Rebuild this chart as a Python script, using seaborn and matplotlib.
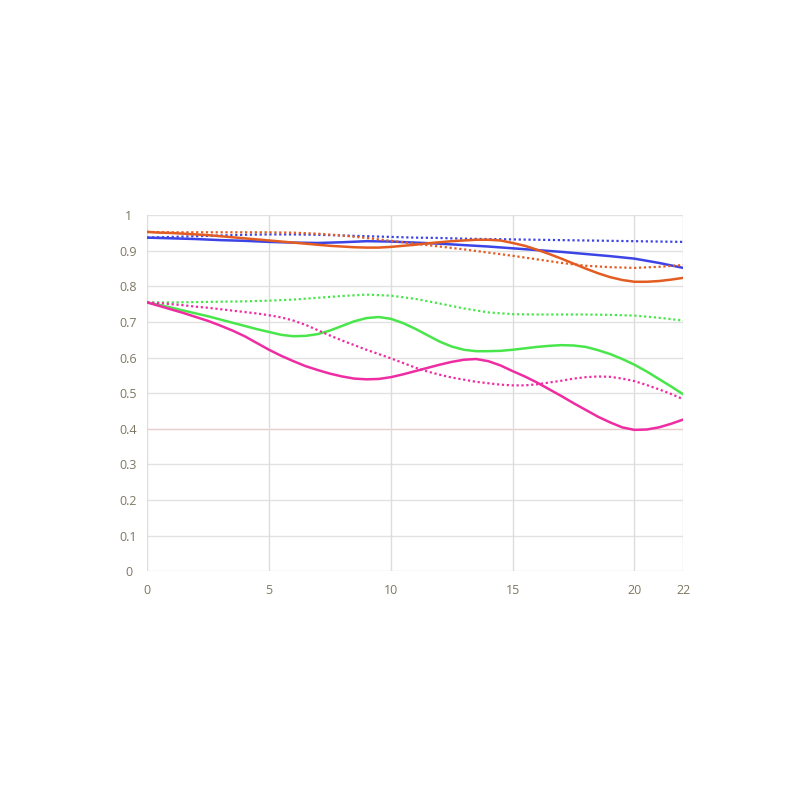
import numpy as np
import pandas as pd
import matplotlib
matplotlib.use("Agg")
import matplotlib.pyplot as plt
import seaborn as sns

# image height in mm (whole mm and half mm for the curvier lines)
x_mm = list(range(0, 23))
x_half = [i / 2 for i in range(0, 45)]

# MTF values
blue_solid = [0.937, 0.935, 0.933, 0.930, 0.928, 0.925, 0.923, 0.922, 0.924, 0.927, 0.926, 0.923,
              0.920, 0.916, 0.912, 0.907, 0.902, 0.897, 0.891, 0.885, 0.878, 0.866, 0.852]
blue_dotted = [0.937, 0.939, 0.941, 0.943, 0.945, 0.946, 0.946, 0.945, 0.943, 0.941, 0.939, 0.937,
               0.936, 0.934, 0.933, 0.932, 0.931, 0.930, 0.929, 0.928, 0.927, 0.926, 0.925]
orange_dotted = [0.953, 0.952, 0.952, 0.952, 0.952, 0.952, 0.951, 0.948, 0.943, 0.936, 0.928, 0.920,
                 0.912, 0.904, 0.895, 0.886, 0.876, 0.866, 0.858, 0.854, 0.852, 0.855, 0.860]
green_dotted = [0.755, 0.755, 0.756, 0.757, 0.758, 0.760, 0.763, 0.768, 0.773, 0.777, 0.774, 0.765,
                0.752, 0.738, 0.727, 0.722, 0.721, 0.721, 0.721, 0.720, 0.718, 0.712, 0.704]

# half-mm readings
orange_solid = [0.953, 0.951, 0.950, 0.948, 0.946, 0.944, 0.941, 0.938, 0.935, 0.932, 0.929,
                0.926, 0.923, 0.920, 0.917, 0.914, 0.912, 0.910, 0.909, 0.909, 0.911, 0.914,
                0.917, 0.921, 0.924, 0.927, 0.929, 0.931, 0.931, 0.929, 0.922, 0.914, 0.903,
                0.891, 0.878, 0.864, 0.850, 0.837, 0.826, 0.818, 0.813, 0.813, 0.815, 0.819, 0.824]
green_solid = [0.755, 0.748, 0.740, 0.732, 0.724, 0.716, 0.707, 0.698, 0.689, 0.680, 0.672,
               0.664, 0.660, 0.661, 0.666, 0.676, 0.689, 0.702, 0.711, 0.714, 0.709, 0.697,
               0.681, 0.663, 0.645, 0.631, 0.622, 0.618, 0.618, 0.619, 0.622, 0.626, 0.630,
               0.633, 0.635, 0.634, 0.630, 0.621, 0.610, 0.596, 0.580, 0.561, 0.540, 0.519, 0.497]
magenta_solid = [0.755, 0.745, 0.735, 0.725, 0.714, 0.703, 0.690, 0.676, 0.660, 0.641, 0.622,
                 0.605, 0.590, 0.576, 0.565, 0.555, 0.547, 0.541, 0.539, 0.540, 0.545, 0.553,
                 0.562, 0.571, 0.580, 0.588, 0.594, 0.596, 0.590, 0.578, 0.562, 0.547, 0.530,
                 0.511, 0.492, 0.472, 0.453, 0.434, 0.418, 0.404, 0.397, 0.398, 0.404, 0.414, 0.426]
magenta_dotted = [0.755, 0.753, 0.750, 0.747, 0.743, 0.740, 0.736, 0.732, 0.728, 0.724, 0.719,
                  0.713, 0.704, 0.692, 0.677, 0.662, 0.648, 0.635, 0.622, 0.610, 0.598, 0.585,
                  0.572, 0.561, 0.552, 0.544, 0.538, 0.532, 0.528, 0.524, 0.522, 0.522, 0.525,
                  0.530, 0.535, 0.541, 0.545, 0.547, 0.546, 0.541, 0.534, 0.523, 0.511, 0.498, 0.483]

x_ticks = [0, 5, 10, 15, 20, 22]
y_ticks = [0, 0.1, 0.2, 0.3, 0.4, 0.5, 0.6, 0.7, 0.8, 0.9, 1]
y_labels = ["0", "0.1", "0.2", "0.3", "0.4", "0.5", "0.6", "0.7", "0.8", "0.9", "1"]

series = [
    ("blue_solid", x_mm, blue_solid, "#3c44e6", "-"),
    ("blue_dotted", x_mm, blue_dotted, "#3c44e6", ":"),
    ("orange_solid", x_half, orange_solid, "#e35d22", "-"),
    ("orange_dotted", x_mm, orange_dotted, "#e35d22", ":"),
    ("green_solid", x_half, green_solid, "#49e64b", "-"),
    ("green_dotted", x_mm, green_dotted, "#49e64b", ":"),
    ("magenta_solid", x_half, magenta_solid, "#ee2da3", "-"),
    ("magenta_dotted", x_half, magenta_dotted, "#ee2da3", ":"),
]

rows = []
for name, xs, vals, c, ls in series:
    for xv, yv in zip(xs, vals):
        rows.append({"x": xv, "mtf": yv, "series": name})
df = pd.DataFrame(rows)

sns.set_style("white")
plt.rcParams['font.family'] = ['Open Sans', 'DejaVu Sans']

fig = plt.figure(figsize=(8, 8), dpi=100)
ax = fig.add_axes([0.184, 0.286, 0.67, 0.445])

# grid lines
for yv in y_ticks:
    col = "#e8cccc" if yv == 0.4 else "#e2e2e2"
    ax.axhline(yv, color=col, lw=1, zorder=0)
for xv in [0, 5, 10, 15, 20, 22]:
    ax.axvline(xv, color="#e0dcdc", lw=1, zorder=0)

for name, xs, vals, c, ls in series:
    sub = df[df["series"] == name]
    if ls == "-":
        sns.lineplot(data=sub, x="x", y="mtf", ax=ax, color=c, lw=1.8,
                     legend=False, zorder=3)
    else:
        sns.lineplot(data=sub, x="x", y="mtf", ax=ax, color=c, lw=1.6,
                     linestyle=(0, (1, 1.2)), legend=False, zorder=3)

ax.set_xlim(0, 22)
ax.set_ylim(0, 1)
ax.set_xticks(x_ticks)
ax.set_xticklabels([str(t) for t in x_ticks])
ax.set_yticks(y_ticks)
ax.set_yticklabels(y_labels)
ax.set_xlabel("")
ax.set_ylabel("")
for s in ax.spines.values():
    s.set_visible(False)
ax.tick_params(axis="both", length=0, colors="#7d7762", labelsize=9)
ax.tick_params(axis="y", pad=13.5)
ax.tick_params(axis="x", pad=9)
for lab in ax.get_yticklabels():
    lab.set_horizontalalignment("center")

fig.savefig("out.png", dpi=100, facecolor="white")
